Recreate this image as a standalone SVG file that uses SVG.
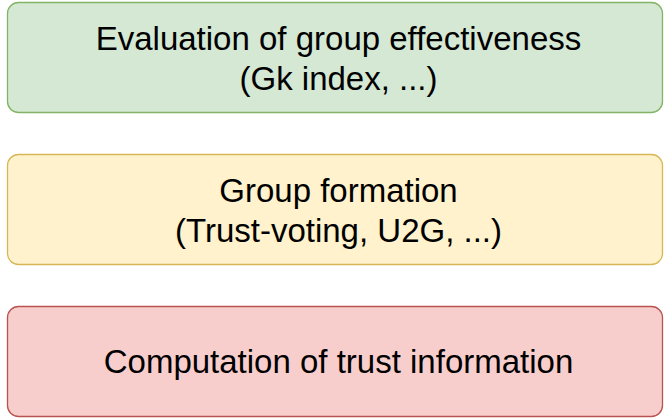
<svg xmlns="http://www.w3.org/2000/svg" width="665" height="418" viewBox="0 0 665 418">
<style>
.box{stroke-width:1.3}
.t{font-family:"Liberation Sans",Arial,Helvetica,sans-serif;font-size:33px;fill:#000;text-anchor:middle}
</style>
<rect width="665" height="418" fill="#fff"/>
<g id="node-eval">
<rect class="box" x="7.5" y="2.5" width="655" height="110" rx="11" fill="#d5e8d4" stroke="#82b366"/>
<text class="t" x="338.5" y="50">Evaluation of group effectiveness</text>
<text class="t" x="338.5" y="89.5">(Gk index, ...)</text>
</g>
<g id="node-formation">
<rect class="box" x="7.5" y="154.5" width="655" height="110" rx="11" fill="#fff2cc" stroke="#d6b656"/>
<text class="t" x="338.5" y="202">Group formation</text>
<text class="t" x="338.5" y="241.5">(Trust-voting, U2G, ...)</text>
</g>
<g id="node-trust">
<rect class="box" x="7.5" y="306.5" width="655" height="110" rx="11" fill="#f8cecc" stroke="#b85450"/>
<text class="t" x="338.5" y="373">Computation of trust information</text>
</g>
<g id="connectors"></g>
</svg>
